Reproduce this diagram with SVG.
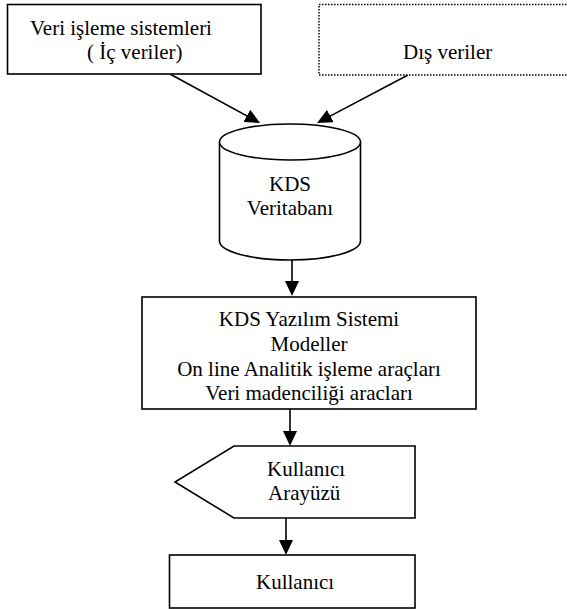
<svg xmlns="http://www.w3.org/2000/svg" width="567" height="609" viewBox="0 0 567 609">
<style>
.s{fill:#fff;stroke:#000;stroke-width:1.6}
.d{fill:#fff;stroke:#000;stroke-width:1.5;stroke-dasharray:1.5 1.5}
.t{font-family:'Liberation Serif','Times New Roman',Times,serif;font-size:21px;fill:#000}
.m{text-anchor:middle}
.c{fill:none;stroke:#000;stroke-width:1.6}
</style>
<defs>
<marker id="ah" markerUnits="userSpaceOnUse" markerWidth="15" markerHeight="14" refX="12" refY="7" orient="auto">
<path d="M0,0 L15,7 L0,14 z" fill="#000"/>
</marker>
</defs>
<rect width="567" height="609" fill="#fff"/>
<g id="connectors">
<line class="c" x1="170" y1="74" x2="257.4" y2="121.6" marker-end="url(#ah)"/>
<line class="c" x1="408" y1="75" x2="319.7" y2="121.6" marker-end="url(#ah)"/>
<line class="c" x1="292" y1="260" x2="292" y2="293" marker-end="url(#ah)"/>
<line class="c" x1="290" y1="409" x2="290" y2="443" marker-end="url(#ah)"/>
<line class="c" x1="286" y1="518" x2="286" y2="552" marker-end="url(#ah)"/>
</g>
<g id="ic-veriler">
<rect class="s" x="7.5" y="4.5" width="253.5" height="69.5"/>
<text class="t" x="30" y="35">Veri işleme sistemleri</text>
<text class="t" x="87" y="59">( İç veriler)</text>
</g>
<g id="dis-veriler">
<rect class="d" x="319" y="4.5" width="252" height="70.5"/>
<text class="t" x="403" y="59">Dış veriler</text>
</g>
<g id="kds-veritabani">
<path class="s" d="M219.5,142 L219.5,241 A70.5,19 0 0 0 360.5,241 L360.5,142"/>
<ellipse class="s" cx="290" cy="142" rx="70.5" ry="18"/>
<text class="t m" x="290" y="191">KDS</text>
<text class="t m" x="290" y="215">Veritabanı</text>
</g>
<g id="kds-yazilim">
<rect class="s" x="142" y="297" width="334" height="112"/>
<text class="t m" x="309" y="326">KDS Yazılım Sistemi</text>
<text class="t m" x="309" y="351">Modeller</text>
<text class="t m" x="309" y="376">On line Analitik işleme araçları</text>
<text class="t m" x="309" y="400">Veri madenciliği aracları</text>
</g>
<g id="kullanici-arayuzu">
<polygon class="s" points="234,446 415,446 415,518 234,518 175,482"/>
<text class="t" x="267" y="476">Kullanıcı</text>
<text class="t" x="268" y="500">Arayüzü</text>
</g>
<g id="kullanici">
<rect class="s" x="169.5" y="555" width="245.5" height="53"/>
<text class="t" x="256" y="589">Kullanıcı</text>
</g>
</svg>
